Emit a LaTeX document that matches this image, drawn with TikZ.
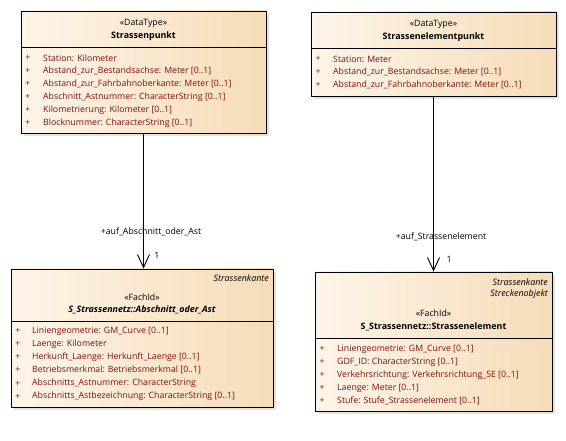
\documentclass[tikz,border=0pt]{standalone}
\usepackage{fontspec}
\setmainfont{Open Sans}
\usepackage{tikz}
\usetikzlibrary{arrows.meta,positioning,calc,shadows}

\definecolor{attrred}{RGB}{128,16,16}
\definecolor{boxleft}{RGB}{253,245,233}
\definecolor{boxright}{RGB}{246,220,184}

\begin{document}
\begin{tikzpicture}[x=1pt, y=-1pt,
  every node/.style={font=\fontsize{8.75}{11}\selectfont, inner sep=0pt},
  umlbox/.style={draw=black, line width=0.9pt, left color=boxleft, right color=boxright,
    drop shadow={shadow xshift=3pt, shadow yshift=-3pt, fill=black!22}},
  attr/.style={anchor=west, text=attrred},
  plus/.style={text=attrred},
  assoc/.style={line width=0.9pt, -{Straight Barb[length=13pt, width=12pt, line width=0.9pt]}}]
  \useasboundingbox (0,0) rectangle (566,441);
  % the four classes
  \node[umlbox, minimum width=245pt, minimum height=122pt] (punkt) at (143.5,72) {};
  \node[umlbox, minimum width=245pt, minimum height=84pt] (sepunkt) at (433.5,54) {};
  \node[umlbox, minimum width=262pt, minimum height=138pt] (abschnitt) at (142,338) {};
  \node[umlbox, minimum width=237pt, minimum height=139pt] (element) at (433.5,341.5) {};
  % compartment lines
  \draw[line width=0.9pt] (punkt.west |- 0,47) -- (punkt.east |- 0,47);
  \draw[line width=0.9pt] (sepunkt.west |- 0,48) -- (sepunkt.east |- 0,48);
  \draw[line width=0.9pt] (abschnitt.west |- 0,321) -- (abschnitt.east |- 0,321);
  \draw[line width=0.9pt] (element.west |- 0,338) -- (element.east |- 0,338);
  % headers
  \node (st1) at (143.5,23) {«DataType»};
  \node[font=\fontsize{8.9}{11}\selectfont\bfseries] (nm1) at (143.5,36) {Strassenpunkt};
  \node (st2) at (433.5,24) {«DataType»};
  \node[font=\fontsize{8.9}{11}\selectfont\bfseries] (nm2) at (433.5,37) {Strassenelementpunkt};
  \node[anchor=east, font=\fontsize{8.9}{11}\selectfont\itshape] (sup1) at (269,278) {Strassenkante};
  \node (st3) at (142,297) {«FachId»};
  \node[font=\fontsize{8.9}{11}\selectfont\bfseries\itshape] (nm3) at (142,310) {S\_Strassennetz::Abschnitt\_oder\_Ast};
  \node[anchor=east, font=\fontsize{8.9}{11}\selectfont\itshape] (sup2) at (548,282) {Strassenkante};
  \node[anchor=east, font=\fontsize{8.9}{11}\selectfont\itshape] (sup3) at (548,294) {Streckenobjekt};
  \node (st4) at (433.5,313) {«FachId»};
  \node[font=\fontsize{8.9}{11}\selectfont\bfseries] (nm4) at (433.5,327) {S\_Strassennetz::Strassenelement};
  % attributes
  \foreach \t [count=\i] in {Station: Kilometer, Abstand\_zur\_Bestandsachse: Meter [0..1],
      Abstand\_zur\_Fahrbahnoberkante: Meter [0..1], Abschnitt\_Astnummer: CharacterString [0..1],
      Kilometrierung: Kilometer [0..1], Blocknummer: CharacterString [0..1]} {
    \node[plus] (pp\i) at (28,{58+13*(\i-1)}) {+};
    \node[attr] (pa\i) at (43,{58+13*(\i-1)}) {\t};
  }
  \foreach \t [count=\i] in {Station: Meter, Abstand\_zur\_Bestandsachse: Meter [0..1],
      Abstand\_zur\_Fahrbahnoberkante: Meter [0..1]} {
    \node[plus] (sp\i) at (318,{59+13*(\i-1)}) {+};
    \node[attr] (sa\i) at (333,{59+13*(\i-1)}) {\t};
  }
  \foreach \t [count=\i] in {Liniengeometrie: GM\_Curve [0..1], Laenge: Kilometer,
      Herkunft\_Laenge: Herkunft\_Laenge [0..1], Betriebsmerkmal: Betriebsmerkmal [0..1],
      Abschnitts\_Astnummer: CharacterString, Abschnitts\_Astbezeichnung: CharacterString [0..1]} {
    \node[plus] (ap\i) at (18,{331+13.1*(\i-1)}) {+};
    \node[attr] (aa\i) at (32,{331+13.1*(\i-1)}) {\t};
  }
  \foreach \t [count=\i] in {Liniengeometrie: GM\_Curve [0..1], GDF\_ID: CharacterString [0..1],
      Verkehrsrichtung: Verkehrsrichtung\_SE [0..1], Laenge: Meter [0..1],
      Stufe: Stufe\_Strassenelement [0..1]} {
    \node[plus] (ep\i) at (322,{349+13*(\i-1)}) {+};
    \node[attr] (ea\i) at (337,{349+13*(\i-1)}) {\t};
  }
  % associations
  \draw[assoc] (punkt.south) -- (punkt.south |- abschnitt.north);
  \draw[assoc] (sepunkt.south) -- (sepunkt.south |- element.north);
  \node (r1) at (151,232) {+auf\_Abschnitt\_oder\_Ast};
  \node (m1) at (157,255) {1};
  \node (r2) at (441,237) {+auf\_Strassenelement};
  \node (m2) at (449,259) {1};
\end{tikzpicture}
\end{document}
